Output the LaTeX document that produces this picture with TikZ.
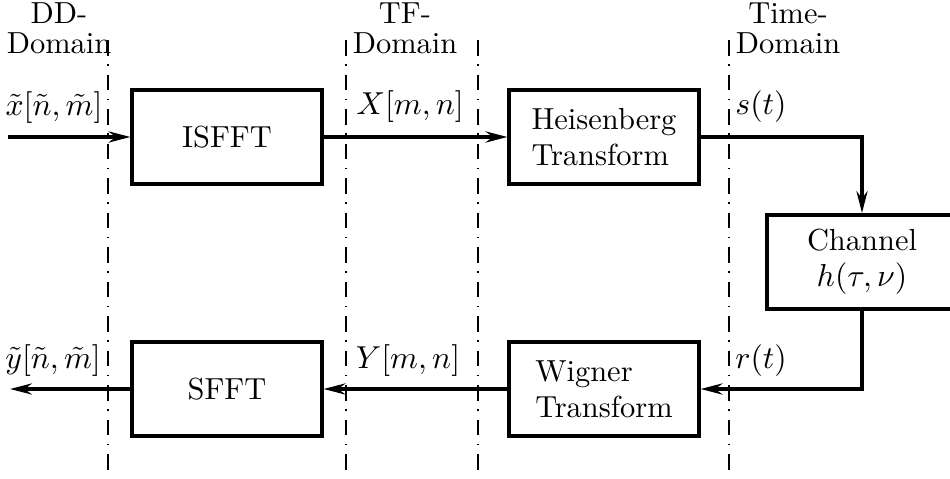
\documentclass[tikz,border=0pt]{standalone}
\usetikzlibrary{arrows.meta}
\begin{document}
\begin{tikzpicture}[x=0.3448pt,y=-0.3448pt,
  every node/.style={font=\fontsize{10.5pt}{12.4pt}\selectfont},
  blk/.style={draw,line width=1.38pt,minimum width=65.2pt,minimum height=32.4pt,
    inner sep=0pt},
  arr/.style={line width=1.38pt,-{Stealth[length=7.5pt,width=3.8pt,inset=2.5pt]}},
  domsep/.style={line width=0.52pt,dash pattern=on 5.4pt off 3pt on 0.5pt off 3pt},
  domlbl/.style={align=center,inner sep=0pt,anchor=north,
    font=\fontsize{10.5pt}{10.3pt}\selectfont},
  sig/.style={anchor=base,inner sep=0pt}]
\useasboundingbox (0,0) rectangle (950,479);
\clip (0,0) rectangle (950,479);

% domain separators
\coordinate (d1t) at (108,40); \coordinate (d1b) at (108,478);
\coordinate (d2t) at (346,40); \coordinate (d2b) at (346,478);
\coordinate (d3t) at (478,40); \coordinate (d3b) at (478,478);
\coordinate (d4t) at (729,40); \coordinate (d4b) at (729,478);
\draw[domsep] (d1t) -- (d1b);
\draw[domsep] (d2t) -- (d2b);
\draw[domsep] (d3t) -- (d3b);
\draw[domsep] (d4t) -- (d4b);

% domain labels
\node[domlbl] (ldd) at (59,2) {DD-\\Domain};
\node[domlbl] (ltf) at (405,2) {TF-\\Domain};
\node[domlbl] (ltime) at (788,2) {Time-\\Domain};

% processing blocks
\node[blk] (isfft) at (227,137) {ISFFT};
\node[blk,align=left] (heis) at (604,137) {Heisenberg\\Transform};
\node[blk,align=center] (chan) at (862,262) {Channel\\$h(\tau,\nu)$};
\node[blk,align=left] (wig) at (604,389) {Wigner\\Transform};
\node[blk] (sfft) at (227,389) {SFFT};

% signal path
\coordinate (xin) at (8,137);
\coordinate (yout) at (10,389);
\draw[arr] (xin) -- (isfft.west);
\draw[arr] (isfft) -- (heis);
\draw[arr] (heis.east) -| (chan.north);
\draw[arr] (chan.south) |- (wig.east);
\draw[arr] (wig) -- (sfft);
\draw[arr] (sfft.west) -- (yout);

% signal labels
\node[sig] (lx) at (54,116) {$\tilde{x}[\tilde{n},\tilde{m}]$};
\node[sig] (lX) at (410,115) {$X[m,n]$};
\node[sig] (ls) at (761,115) {$s(t)$};
\node[sig] (ly) at (53,369) {$\tilde{y}[\tilde{n},\tilde{m}]$};
\node[sig] (lY) at (408,369) {$Y[m,n]$};
\node[sig] (lr) at (761,369) {$r(t)$};
\end{tikzpicture}
\end{document}
